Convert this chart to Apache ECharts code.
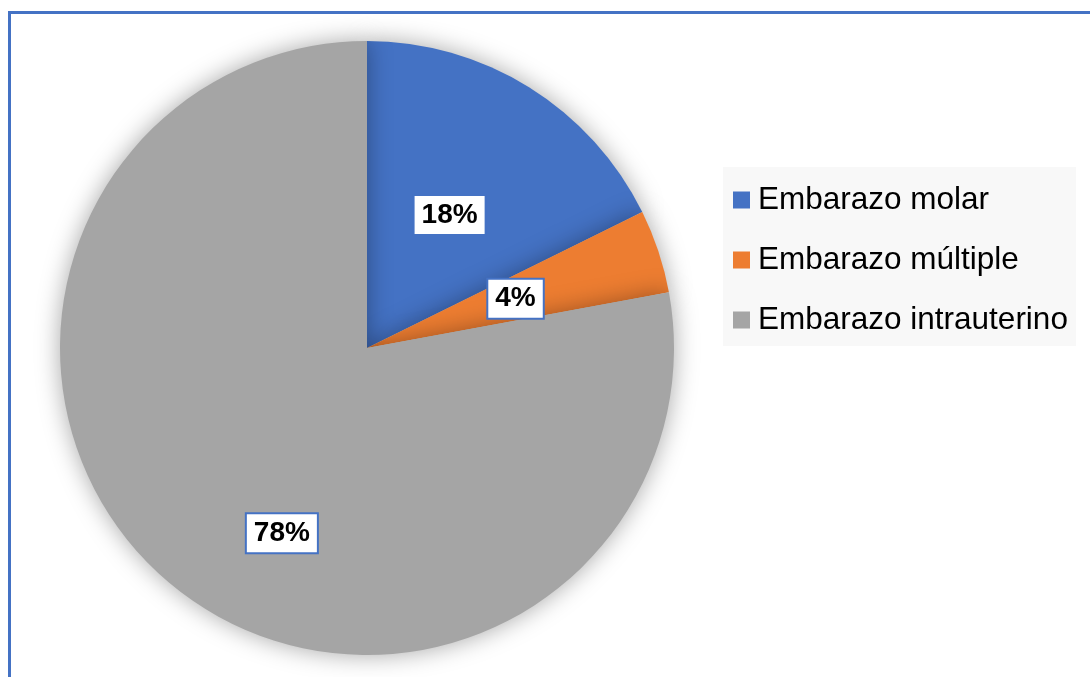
<!DOCTYPE html>
<html>
<head>
<meta charset="utf-8">
<script src="https://cdn.jsdelivr.net/npm/echarts@6/dist/echarts.min.js"></script>
<style>
html,body{margin:0;padding:0;background:#fff;}
#c{width:1090px;height:677px;}
</style>
</head>
<body>
<div id="c"></div>
<script>
const categories = ["Embarazo molar", "Embarazo múltiple", "Embarazo intrauterino"];
const values = [17.7, 4.4, 77.9];
const labels = ["18%", "4%", "78%"];
const colors = ["#4472C4", "#ED7D31", "#A5A5A5"];

const chart = echarts.init(document.getElementById('c'));
chart.setOption({
  backgroundColor: '#ffffff',
  animation: false,
  graphic: [{
    type: 'rect',
    shape: {x: 9.5, y: 12.5, width: 1300, height: 900},
    style: {fill: 'none', stroke: '#4472C4', lineWidth: 3},
    z: 100
  }],
  legend: {
    orient: 'vertical',
    left: 723,
    top: 167,
    width: 353,
    backgroundColor: '#f8f8f8',
    padding: [17, 8, 10, 10],
    itemWidth: 17,
    itemHeight: 17,
    itemGap: 28,
    icon: 'rect',
    data: categories,
    textStyle: {
      fontFamily: 'Liberation Sans, Arial, sans-serif',
      fontSize: 31.5,
      lineHeight: 30,
      color: '#000',
      padding: [0, 0, 0, 3]
    }
  },
  series: [{
    type: 'pie',
    center: [367, 348],
    radius: 307,
    startAngle: 90,
    clockwise: true,
    silent: true,
    itemStyle: {
      shadowBlur: 24,
      shadowColor: 'rgba(0,0,0,0.35)'
    },
    label: {
      show: true,
      position: 'inside',
      formatter: p => labels[p.dataIndex],
      fontFamily: 'Liberation Sans, Arial, sans-serif',
      fontWeight: 'bold',
      fontSize: 28,
      lineHeight: 30,
      color: '#000',
      backgroundColor: '#fff',
      borderColor: '#4472C4',
      borderWidth: 2,
      padding: [4, 7, 4, 7]
    },
    labelLayout: function (params) {
      if (params.dataIndex === 2) return {dx: 15, dy: 65};
      return {};
    },
    labelLine: {show: false},
    data: categories.map((n, i) => ({name: n, value: values[i], itemStyle: {color: colors[i]}}))
  }]
});
</script>
</body>
</html>
